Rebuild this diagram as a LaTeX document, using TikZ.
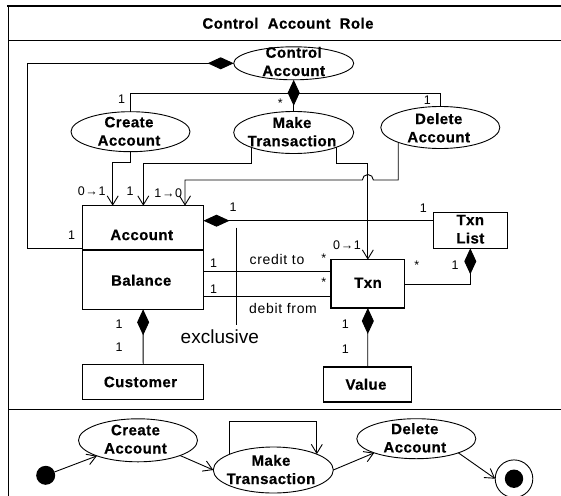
\documentclass[tikz,border=0pt]{standalone}
\usepackage{fontspec}
\setmainfont{Liberation Sans}
\newfontfamily\lblf[LetterSpace=3,BoldFeatures={FakeBold=0.6}]{Liberation Sans}
\newfontfamily\labf[LetterSpace=5]{Liberation Sans}
\usetikzlibrary{shapes.geometric,arrows.meta,calc}
\begin{document}
\begin{tikzpicture}[x=1pt,y=-1pt,
  box/.style={draw,rectangle,line width=1.5pt,inner sep=0pt,outer sep=0pt},
  uc/.style={draw,ellipse,line width=0.9pt,inner sep=0pt,outer sep=0pt},
  nm/.style={font=\fontsize{15}{18.3}\selectfont\lblf\bfseries,align=center,inner sep=0pt},
  mult/.style={font=\fontsize{12.5}{14}\selectfont\labf,inner sep=0pt},
  lab/.style={font=\fontsize{14}{16}\selectfont\labf,inner sep=0pt},
  conn/.style={line width=0.9pt},
  arr/.style={conn,-{Straight Barb[length=9pt,width=11pt]}},
  comp/.style={conn,{Diamond[length=26pt,width=12pt]}-},
]
\useasboundingbox (0,0) rectangle (561,495);
\clip (0,0) rectangle (561,495);
% frame
\draw[line width=1pt] (8.3,6) -- (8.3,600);
\draw[line width=2.2pt] (7.2,6) -- (600,6);
\draw[line width=1.6pt] (8.3,40.7) -- (600,40.7);
\draw[line width=1.6pt] (8.3,409.3) -- (600,409.3);
\node[font=\fontsize{15}{17}\selectfont\lblf\bfseries,inner sep=0pt] (title) at (288,23.3) {Control\ \ Account\ \ Role};

% use cases (top)
\node[uc,minimum width=120pt,minimum height=33pt] (ctrl) at (293.7,63.3) {};
\node[nm] (ctrlt) at (293.7,61.5) {Control\\Account};
\node[uc,minimum width=119pt,minimum height=40pt] (cr) at (130.5,131.7) {};
\node[nm] (crt) at (129,131.3) {Create\\Account};
\node[uc,minimum width=120pt,minimum height=42pt] (mk) at (293.7,132.5) {};
\node[nm] (mkt) at (292,131.7) {Make\\Transaction};
\node[uc,minimum width=119pt,minimum height=42pt] (dl) at (440.3,127.5) {};
\node[nm] (dlt) at (438.7,127.8) {Delete\\Account};

% classes
\node[box,minimum width=120.8pt,minimum height=44.3pt] (acc) at (143.1,227.85) {};
\node[nm] (acct) at (141.7,235) {Account};
\node[box,minimum width=120.8pt,minimum height=59.3pt] (bal) at (143.1,279.65) {};
\node[nm] (balt) at (141.2,280.3) {Balance};
\node[box,minimum width=74pt,minimum height=36pt] (tl) at (470.3,230.3) {};
\node[nm] (tlt) at (470.3,229.2) {Txn\\List};
\node[box,minimum width=73.7pt,minimum height=48.3pt] (txn) at (367.85,283.85) {};
\node[nm] (txnt) at (368,282.7) {Txn};
\node[box,minimum width=121pt,minimum height=35.4pt] (cust) at (143.2,382) {};
\node[nm] (custt) at (140.5,382) {Customer};
\node[box,minimum width=88pt,minimum height=35pt] (val) at (367.7,384.5) {};
\node[nm] (valt) at (366,384.3) {Value};

% control tree
\draw[conn] (cr.north) |- ($(ctrl.south)+(0,14)$) -| (dl.north);
\draw[comp] (ctrl.south) -- (mk.north);
\coordinate (lp) at (27.7,248);
\draw[comp] (ctrl.west) -| (lp) -- (lp -| acc.west);

% to account / txn
\draw[arr] (cr.south) -- ++(0,11) -| ([xshift=30pt]acc.north west);
\draw[arr] (mk.south west) -- ++(0,16) -| ([xshift=60.6pt]acc.north west);
\draw[arr] (mk.south east) -- ++(0,16) -| (txn.north);
\draw[arr] (dl.south west) -- ++(0,37.65) coordinate (dk) -- ($(dk -| txn.north)+(5.5,0)$) arc[start angle=0,end angle=-180,radius=5.5] -| ([xshift=102.3pt]acc.north west);

% associations
\coordinate (ta) at ($(acc.north east)+(0,15)$);
\draw[comp] (ta) -- (ta -| tl.west);
\coordinate (ct) at ($(bal.north east)+(0,21.3)$);
\draw[conn] (ct) -- (ct -| txn.west);
\coordinate (db) at ($(bal.north east)+(0,46.3)$);
\draw[conn] (db) -- (db -| txn.west);
\draw[comp] (tl.south) |- ($(txn.north east)+(0,24.3)$);
\draw[comp] (txn.south) -- (val.north);
\draw[comp] (bal.south) -- (cust.north);
\coordinate (ex1) at (236.3,227.7);
\coordinate (ex2) at (236.3,325.3);
\draw[conn] (ex1) -- (ex2);

% labels
\node[mult] (m1) at (121.7,99.3) {1};
\node[mult,anchor=north] (m2) at (280.3,98.5) {*};
\node[mult] (m3) at (427.3,100) {1};
\node[mult] (m4) at (91.7,190.7) {0→1};
\node[mult] (m5) at (130,190.7) {1};
\node[mult] (m6) at (168.3,192.7) {1→0};
\node[mult] (m7) at (71.7,235) {1};
\node[mult] (m8) at (233,206.7) {1};
\node[mult] (m9) at (423.3,208.3) {1};
\node[mult] (m10) at (347,245) {0→1};
\node[mult] (m11) at (213.7,263) {1};
\node[mult] (m12) at (213.7,288.7) {1};
\node[lab] (cred) at (277,259.7) {credit to};
\node[lab] (deb) at (283,308.7) {debit from};
\node[mult,anchor=north] (m13) at (323.7,254) {*};
\node[mult,anchor=north] (m14) at (323.7,277.3) {*};
\node[mult,anchor=north] (m15) at (416.7,260.3) {*};
\node[mult] (m16) at (455,265) {1};
\node[mult] (m17) at (345.3,324.3) {1};
\node[mult] (m18) at (345.3,348.7) {1};
\node[mult] (m19) at (119,323.7) {1};
\node[mult] (m20) at (119,347) {1};
\node[font=\fontsize{19}{21}\selectfont,inner sep=0pt] (excl) at (219.8,336.3) {exclusive};

% state diagram
\node[circle,fill,inner sep=0pt,outer sep=0pt,minimum size=19pt] (ini) at (45.7,475.3) {};
\node[uc,minimum width=119pt,minimum height=43pt] (cr2) at (138,440.3) {};
\node[nm] (cr2t) at (135.5,439.2) {Create\\Account};
\node[uc,minimum width=120pt,minimum height=46pt] (mk2) at (273.3,470) {};
\node[nm] (mk2t) at (271,469.5) {Make\\Transaction};
\node[uc,minimum width=119pt,minimum height=40pt] (dl2) at (416.3,438.7) {};
\node[nm] (dl2t) at (414.8,437.9) {Delete\\Account};
\node[circle,draw,line width=0.9pt,minimum size=37.6pt,inner sep=0pt,outer sep=0pt] (fin) at (514,478.7) {};
\node[circle,fill,minimum size=18.4pt,inner sep=0pt] (fini) at (fin) {};
\draw[arr] (ini) -- (cr2);
\draw[arr] (cr2.south east) -- (mk2.west);
\draw[arr] (mk2.160) -- ++(0,-33) -| (mk2.20);
\draw[arr] (mk2.east) -- (dl2.south west);
\draw[arr] (dl2.south east) -- (fin.west);
\end{tikzpicture}
\end{document}
